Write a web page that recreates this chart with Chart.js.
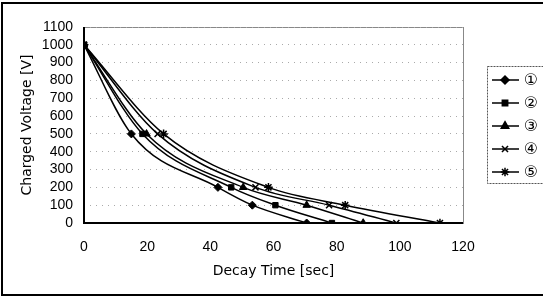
<!DOCTYPE html>
<html><head><meta charset="utf-8">
<script src="https://cdn.jsdelivr.net/npm/chart.js@4/dist/chart.umd.min.js"></script>
<style>html,body{margin:0;padding:0;background:#fff}#wrap{width:543px;height:298px;position:relative}</style>
</head><body><div id="wrap"><canvas id="c" width="543" height="298"></canvas></div>
<script>
const voltages = [1000, 500, 200, 100, 0];
const times1 = [0, 15, 42.4, 53.3, 70.5];
const times2 = [0, 18.5, 46.6, 60.6, 78.5];
const times3 = [0, 19.8, 50.4, 70.5, 88.4];
const times4 = [0, 23.3, 54.3, 77.6, 98.9];
const times5 = [0, 25.2, 58.4, 82.7, 112.7];
const seriesLabels = ['①', '②', '③', '④', '⑤'];
const xTitle = 'Decay Time [sec]';
const yTitle = 'Charged Voltage [V]';

const styles = ['rectRot', 'rect', 'triangle', 'crossRot', 'star'];
const radii = [4, 3.8, 4.3, 4.3, 4.3];
const drawOrder = [1, 0, 2, 3, 4];
const allTimes = [times1, times2, times3, times4, times5];
const datasets = allTimes.map((t, i) => ({
  label: seriesLabels[i],
  data: t.map((x, j) => ({x: x, y: voltages[j]})),
  order: drawOrder[i],
  borderColor: '#000', backgroundColor: '#000',
  borderWidth: 1.5, pointStyle: styles[i], pointRadius: radii[i],
  pointBorderWidth: (styles[i] === 'crossRot' || styles[i] === 'star') ? 1.5 : 1,
  cubicInterpolationMode: 'monotone', fill: false
}));

const FONT = '"Liberation Sans", Arial, sans-serif';
const TFONT = '"DejaVu Sans", "Liberation Sans", sans-serif';

const frame = {
  id: 'frame',
  beforeDraw(chart) {
    const ctx = chart.ctx;
    ctx.save();
    ctx.fillStyle = '#fff'; ctx.fillRect(0, 0, 543, 298);
    ctx.strokeStyle = '#000'; ctx.lineWidth = 2;
    ctx.beginPath();
    ctx.moveTo(2, 296); ctx.lineTo(2, 3); ctx.lineTo(545, 3);
    ctx.moveTo(2, 295); ctx.lineTo(545, 295);
    ctx.stroke();
    const a = chart.chartArea;
    ctx.strokeStyle = '#888'; ctx.lineWidth = 1;
    ctx.strokeRect(a.left + 0.5, a.top + 0.5, a.right - a.left, a.bottom - a.top);
    ctx.restore();
  },
  afterDraw(chart) {
    const ctx = chart.ctx;
    const a = chart.chartArea;
    ctx.save();
    ctx.strokeStyle = '#000'; ctx.lineWidth = 2;
    ctx.beginPath();
    ctx.moveTo(a.left, a.top); ctx.lineTo(a.left, a.bottom); ctx.lineTo(a.right, a.bottom);
    ctx.stroke();
    const bx = 487.5, by = 66.5, bw = 56, bh = 117;
    ctx.strokeStyle = '#555'; ctx.lineWidth = 1; ctx.setLineDash([2, 1]);
    ctx.strokeRect(bx, by, bw, bh);
    ctx.setLineDash([]);
    chart.data.datasets.forEach((ds, i) => {
      const y = 80 + i * 23;
      ctx.strokeStyle = '#000'; ctx.lineWidth = 1.5;
      ctx.beginPath(); ctx.moveTo(492, y); ctx.lineTo(519, y); ctx.stroke();
      ctx.fillStyle = '#000';
      Chart.helpers.drawPoint(ctx, {pointStyle: ds.pointStyle, radius: ds.pointRadius, rotation: 0, borderWidth: ds.pointBorderWidth}, 505, y);
      ctx.fillStyle = '#000';
      ctx.font = '16px "DejaVu Sans", "Noto Sans CJK JP", sans-serif';
      ctx.textAlign = 'center'; ctx.textBaseline = 'middle';
      ctx.fillText(ds.label, 531, y + 1);
    });
    ctx.restore();
  }
};

new Chart(document.getElementById('c'), {
  type: 'line',
  data: {datasets},
  options: {
    responsive: false, animation: false, devicePixelRatio: 1,
    layout: {padding: {left: 0, right: 80, top: 27, bottom: 18}},
    plugins: {legend: {display: false}, tooltip: {enabled: false}},
    scales: {
      x: {
        type: 'linear', min: 0, max: 120,
        ticks: {stepSize: 20, autoSkip: false, maxRotation: 0, color: '#000', padding: 16,
                callback: v => String(v), font: {family: FONT, size: 14}},
        grid: {display: false, drawTicks: false},
        border: {display: false},
        title: {display: true, text: xTitle, color: '#000', font: {family: TFONT, size: 14}, padding: {top: 7, bottom: 0}},
        afterFit(s) { s.height = 298 - 223 - 18; }
      },
      y: {
        min: 0, max: 1100,
        ticks: {stepSize: 100, autoSkip: false, color: '#000', padding: 11,
                callback: v => String(v), font: {family: FONT, size: 14}},
        grid: {color: '#aaa', lineWidth: 1, drawTicks: false},
        border: {display: false, dash: [1, 5]},
        title: {display: true, text: yTitle, color: '#000', font: {family: TFONT, size: 14}, padding: {top: 19, bottom: 0}},
        afterFit(s) { s.width = 84; }
      }
    }
  },
  plugins: [frame]
});
</script>
</body></html>
